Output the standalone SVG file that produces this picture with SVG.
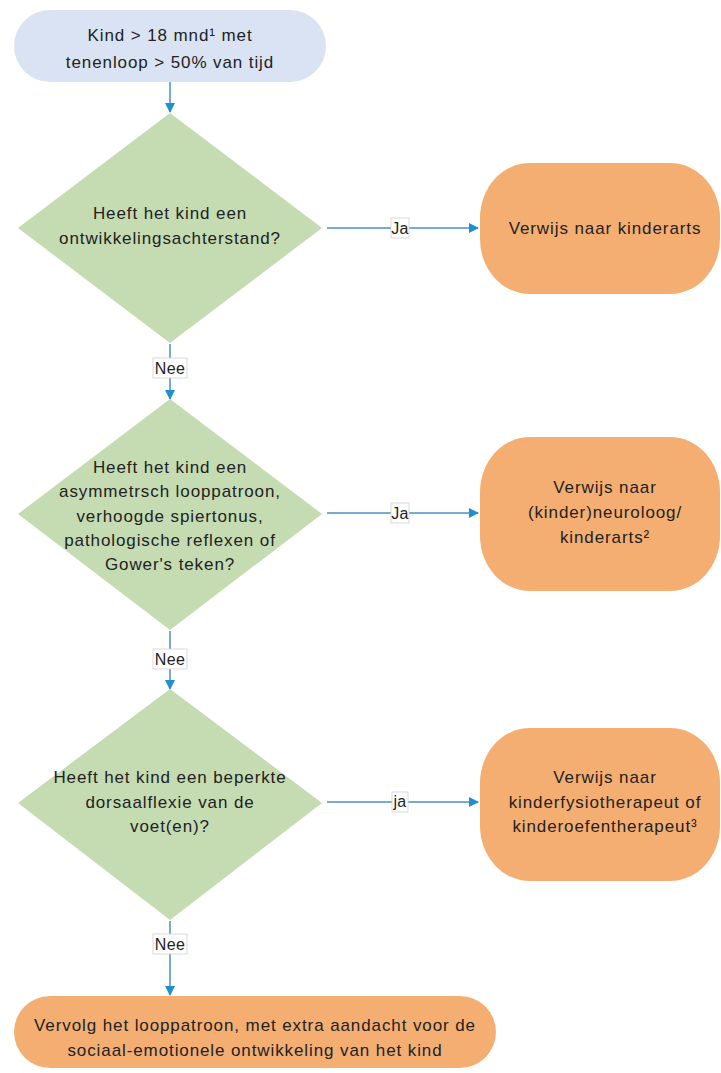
<svg xmlns="http://www.w3.org/2000/svg" width="721" height="1073" viewBox="0 0 721 1073">
<style>
text{font-family:"Liberation Sans",Arial,sans-serif;font-size:17px;fill:#222;text-anchor:middle;letter-spacing:0.9px}
.start{fill:#dae3f3}
.dec{fill:#c5dbb2}
.end{fill:#f5ae72}
.ln{stroke:#4a8fc0;stroke-width:1.5;fill:none}
.lbl{fill:#fff;stroke:#d0d0d0;stroke-width:0.8}
.lt{font-size:16px;letter-spacing:0.3px}
</style>
<defs>
<marker id="ah" viewBox="0 0 10 10" refX="9" refY="5" markerWidth="10" markerHeight="10" markerUnits="userSpaceOnUse" orient="auto">
<path d="M0,0 L10,5 L0,10 z" fill="#1f8fd0"/>
</marker>
</defs>
<g id="connectors">
<line class="ln" x1="170" y1="82" x2="170" y2="112" marker-end="url(#ah)"/>
<line class="ln" x1="327" y1="228" x2="478" y2="228" marker-end="url(#ah)"/>
<rect class="lbl" x="391" y="218" width="18" height="20"/>
<text class="lt" x="400" y="234">Ja</text>
<line class="ln" x1="170" y1="344" x2="170" y2="399" marker-end="url(#ah)"/>
<rect class="lbl" x="153" y="358" width="34" height="20"/>
<text class="lt" x="170" y="374">Nee</text>
<line class="ln" x1="327" y1="513" x2="478" y2="513" marker-end="url(#ah)"/>
<rect class="lbl" x="391" y="503" width="18" height="20"/>
<text class="lt" x="400" y="519">Ja</text>
<line class="ln" x1="170" y1="631" x2="170" y2="689" marker-end="url(#ah)"/>
<rect class="lbl" x="153" y="649" width="34" height="20"/>
<text class="lt" x="170" y="665">Nee</text>
<line class="ln" x1="327" y1="802" x2="478" y2="802" marker-end="url(#ah)"/>
<rect class="lbl" x="392" y="792" width="16" height="20"/>
<text class="lt" x="400" y="807">ja</text>
<line class="ln" x1="170" y1="921" x2="170" y2="995" marker-end="url(#ah)"/>
<rect class="lbl" x="153" y="934" width="34" height="20"/>
<text class="lt" x="170" y="950">Nee</text>
</g>
<g id="start">
<rect class="start" x="14" y="10" width="312" height="72" rx="36" ry="36"/>
<text x="170" y="41">Kind &gt; 18 mnd¹ met</text>
<text x="170" y="68">tenenloop &gt; 50% van tijd</text>
</g>
<g id="q1">
<polygon class="dec" points="170,113 322,228 170,343 18,228"/>
<text x="170" y="219">Heeft het kind een</text>
<text x="170" y="244">ontwikkelingsachterstand?</text>
</g>
<g id="r1">
<rect class="end" x="480" y="163" width="240" height="131" rx="50" ry="55"/>
<text x="605" y="234">Verwijs naar kinderarts</text>
</g>
<g id="q2">
<polygon class="dec" points="170,399 322,514 170,630 18,514"/>
<text x="170" y="473">Heeft het kind een</text>
<text x="170" y="497">asymmetrsch looppatroon,</text>
<text x="170" y="522">verhoogde spiertonus,</text>
<text x="170" y="546">pathologische reflexen of</text>
<text x="170" y="570">Gower's teken?</text>
</g>
<g id="r2">
<rect class="end" x="480" y="437" width="240" height="154" rx="50" ry="55"/>
<text x="605" y="493">Verwijs naar</text>
<text x="605" y="518">(kinder)neuroloog/</text>
<text x="605" y="543">kinderarts²</text>
</g>
<g id="q3">
<polygon class="dec" points="170,689 322,803 170,920 18,803"/>
<text x="170" y="783">Heeft het kind een beperkte</text>
<text x="170" y="808">dorsaalflexie van de</text>
<text x="170" y="832">voet(en)?</text>
</g>
<g id="r3">
<rect class="end" x="480" y="728" width="240" height="153" rx="50" ry="55"/>
<text x="605" y="783">Verwijs naar</text>
<text x="605" y="808">kinderfysiotherapeut of</text>
<text x="605" y="832">kinderoefentherapeut³</text>
</g>
<g id="end">
<rect class="end" x="14" y="996" width="482" height="72" rx="36" ry="36"/>
<text x="255" y="1031">Vervolg het looppatroon, met extra aandacht voor de</text>
<text x="255" y="1056">sociaal-emotionele ontwikkeling van het kind</text>
</g>
</svg>
